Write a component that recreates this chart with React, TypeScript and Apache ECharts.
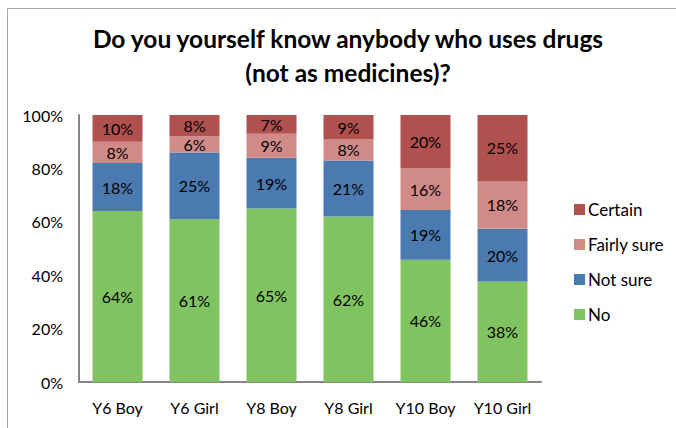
import React, { useEffect, useRef } from "react";
import * as echarts from "echarts";

const categories = ["Y6 Boy", "Y6 Girl", "Y8 Boy", "Y8 Girl", "Y10 Boy", "Y10 Girl"];
const noValues = [64, 61, 65, 62, 45.8, 37.6];
const notSureValues = [18, 25, 19, 21, 18.6, 19.8];
const fairlySureValues = [8, 6, 9, 8, 15.7, 17.9];
const certainValues = [10, 8, 7, 9, 19.9, 24.7];
const seriesNames = ["No", "Not sure", "Fairly sure", "Certain"];
const legendOrder = ["Certain", "Fairly sure", "Not sure", "No"];
const yTicks = [0, 20, 40, 60, 80, 100];
const titleText = "Do you yourself know anybody who uses drugs\n(not as medicines)?";

const colors = ["#80C462", "#4A7AB0", "#D08A88", "#B05150"];
const FONT = "Lato";

export default function App() {
  const ref = useRef<HTMLDivElement>(null);
  useEffect(() => {
    if (!ref.current) return;
    const chart = echarts.init(ref.current, null, { renderer: "svg" });
    const values = [noValues, notSureValues, fairlySureValues, certainValues];
    chart.setOption({
      animation: false,
      textStyle: { fontFamily: FONT },
      title: {
        text: titleText,
        left: 343,
        top: 16,
        textAlign: "center",
        textStyle: { fontFamily: FONT, fontSize: 24.5, fontWeight: "bold", color: "#000", lineHeight: 34 },
      },
      graphic: [
        {
          type: "rect",
          shape: { x: 7.5, y: 8.5, width: 720, height: 500 },
          style: { fill: "none", stroke: "#A6A6A6", lineWidth: 1 },
          silent: true,
        },
      ],
      legend: {
        orient: "vertical",
        left: 569,
        top: 196,
        itemWidth: 11,
        itemHeight: 11,
        itemGap: 18,
        icon: "rect",
        data: legendOrder,
        textStyle: { fontFamily: FONT, fontSize: 17, color: "#000", padding: [0, 0, 0, -2] },
      },
      grid: { left: 79, right: 135, top: 115, bottom: 46, containLabel: false },
      xAxis: {
        type: "category",
        data: categories,
        axisLine: { lineStyle: { color: "#868686", width: 2 } },
        axisTick: { show: false },
        axisLabel: { fontFamily: FONT, fontSize: 16, color: "#000", margin: 17, interval: 0 },
      },
      yAxis: {
        type: "value",
        min: 0,
        max: 100,
        interval: 20,
        axisLine: { show: true, lineStyle: { color: "#868686", width: 2 } },
        axisTick: { show: false },
        splitLine: { show: false },
        axisLabel: {
          fontFamily: FONT,
          fontSize: 16,
          color: "#000",
          margin: 16,
          formatter: (v: number) => (yTicks.includes(v) ? v + "%" : ""),
        },
      },
      series: seriesNames.map((name, i) => ({
        name,
        type: "bar",
        stack: "total",
        barWidth: 50,
        data: values[i],
        itemStyle: { color: colors[i] },
        label: {
          show: true,
          position: "inside",
          fontFamily: FONT,
          fontSize: 16,
          color: "#000",
          formatter: (p: any) => Math.round(p.value) + "%",
        },
      })),
    });
    return () => chart.dispose();
  }, []);
  return (
    <div
      ref={ref}
      style={{ position: "absolute", left: 0, top: 0, width: 676, height: 428, background: "#fff" }}
    />
  );
}
